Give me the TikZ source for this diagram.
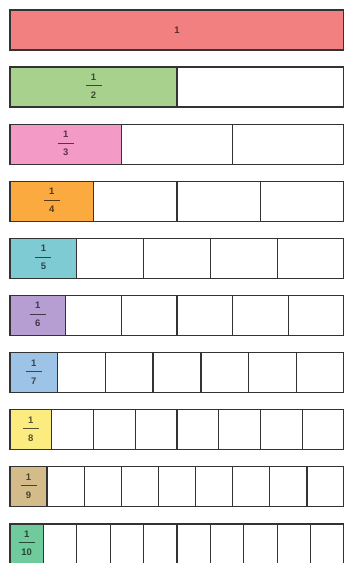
\documentclass[tikz,border=0pt]{standalone}
\usepackage{fontspec}
\setmainfont{Liberation Sans}
\usepackage{tikz}
\definecolor{BarRed}{HTML}{F38080}
\definecolor{BarGreen}{HTML}{A9D18E}
\definecolor{BarPink}{HTML}{F39BC6}
\definecolor{BarOrange}{HTML}{FAAA3E}
\definecolor{BarTeal}{HTML}{7ECBD3}
\definecolor{BarPurple}{HTML}{B69DD2}
\definecolor{BarBlue}{HTML}{9DC3E6}
\definecolor{BarYellow}{HTML}{FCEC80}
\definecolor{BarTan}{HTML}{D3BC8A}
\definecolor{BarMint}{HTML}{6FCB9B}
\definecolor{EdgeGray}{HTML}{333333}
\newcommand{\unitfrac}[1]{\begin{tabular}{@{}c@{}}1\\[-3pt]\rule[3.1pt]{16pt}{1pt}\\[-3pt]#1\end{tabular}}

\begin{document}
\begin{tikzpicture}[x=1pt, y=-1pt, every node/.style={font=\fontsize{9.5}{12}\selectfont\bfseries}]
  \tikzstyle{cell}=[rectangle, draw=EdgeGray, line width=1.3pt, minimum height=40pt,
  anchor=north west, inner sep=0pt, outer sep=0pt]
  \useasboundingbox (0,0) rectangle (344,563);
  % one bar for each unit fraction, the first part coloured
  \foreach \n/\col in {1/BarRed, 2/BarGreen, 3/BarPink, 4/BarOrange, 5/BarTeal,
                       6/BarPurple, 7/BarBlue, 8/BarYellow, 9/BarTan, 10/BarMint} {
    \pgfmathsetmacro{\w}{334/\n}
    \pgfmathsetmacro{\rowtop}{10+57.1*(\n-1)}
    \foreach \k in {1,...,\n} {
      \ifnum\k=1 \def\cellfill{\col}\else\def\cellfill{white}\fi
      \node[cell, fill=\cellfill, minimum width=\w pt] (c-\n-\k) at ({10+\w*(\k-1)}, \rowtop) {};
    }
    \node[text=\col!35!black] (lab-\n) at (c-\n-1) {\ifnum\n=1 1\else\unitfrac{\n}\fi};
  }
\end{tikzpicture}
\end{document}
